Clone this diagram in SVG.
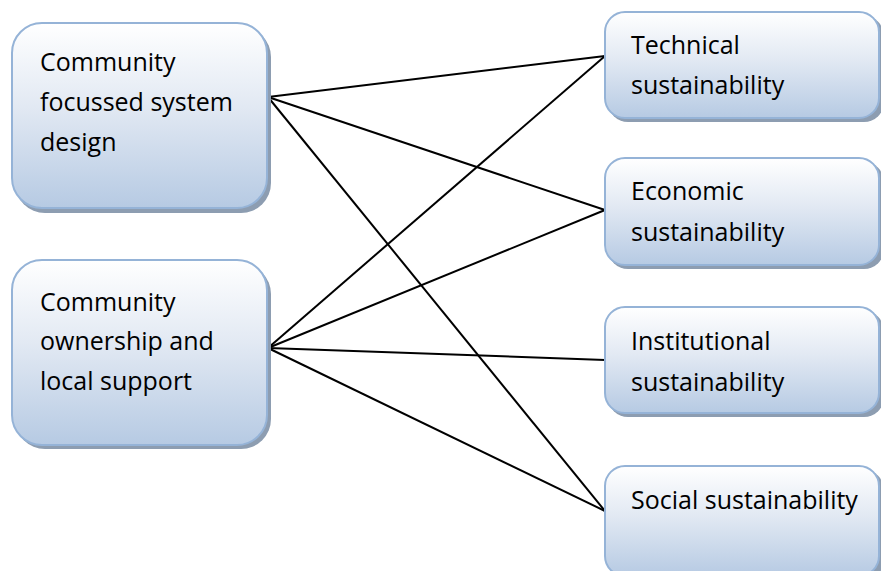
<svg xmlns="http://www.w3.org/2000/svg" width="881" height="571" viewBox="0 0 881 571">
<defs>
<linearGradient id="g" x1="0" y1="0" x2="0" y2="1">
<stop offset="0" stop-color="#ffffff"/>
<stop offset="0.45" stop-color="#e2e9f3"/>
<stop offset="1" stop-color="#b6cae3"/>
</linearGradient>
<style>
.box{fill:url(#g);stroke:#95b3d7;stroke-width:2}
.sh{fill:#8d9db1}
.t{font-family:"Open Sans","Liberation Sans",sans-serif;font-size:25px;fill:#000}
.c{stroke:#000;stroke-width:2;fill:none}
</style>
</defs>
<rect width="881" height="571" fill="#fff"/>
<g id="connectors">
<line class="c" x1="268" y1="97" x2="605" y2="56"/>
<line class="c" x1="268" y1="97" x2="605" y2="210"/>
<line class="c" x1="268" y1="97" x2="605" y2="511"/>
<line class="c" x1="268" y1="348" x2="605" y2="56"/>
<line class="c" x1="268" y1="348" x2="605" y2="210"/>
<line class="c" x1="268" y1="348" x2="605" y2="360"/>
<line class="c" x1="268" y1="348" x2="605" y2="511"/>
</g>
<g id="n1">
<rect class="sh" x="15" y="27" width="256" height="186" rx="30"/>
<rect class="box" x="12" y="23" width="255" height="185" rx="30"/>
<text class="t" x="40" y="71">Community</text>
<text class="t" x="40" y="111">focussed system</text>
<text class="t" x="40" y="151">design</text>
</g>
<g id="n2">
<rect class="sh" x="15" y="264" width="256" height="185" rx="30"/>
<rect class="box" x="12" y="260" width="255" height="185" rx="30"/>
<text class="t" x="40" y="311">Community</text>
<text class="t" x="40" y="350">ownership and</text>
<text class="t" x="40" y="390">local support</text>
</g>
<g id="r1">
<rect class="sh" x="608" y="16" width="276" height="106" rx="20"/>
<rect class="box" x="605" y="12" width="274" height="106" rx="20"/>
<text class="t" x="631" y="54">Technical</text>
<text class="t" x="631" y="94">sustainability</text>
</g>
<g id="r2">
<rect class="sh" x="608" y="162" width="276" height="107" rx="20"/>
<rect class="box" x="605" y="158" width="274" height="107" rx="20"/>
<text class="t" x="631" y="200">Economic</text>
<text class="t" x="631" y="241">sustainability</text>
</g>
<g id="r3">
<rect class="sh" x="608" y="311" width="276" height="106" rx="20"/>
<rect class="box" x="605" y="307" width="274" height="106" rx="20"/>
<text class="t" x="631" y="350">Institutional</text>
<text class="t" x="631" y="391">sustainability</text>
</g>
<g id="r4">
<rect class="sh" x="608" y="470" width="276" height="110" rx="20"/>
<rect class="box" x="605" y="466" width="274" height="110" rx="20"/>
<text class="t" x="631" y="509">Social sustainability</text>
</g>
</svg>
